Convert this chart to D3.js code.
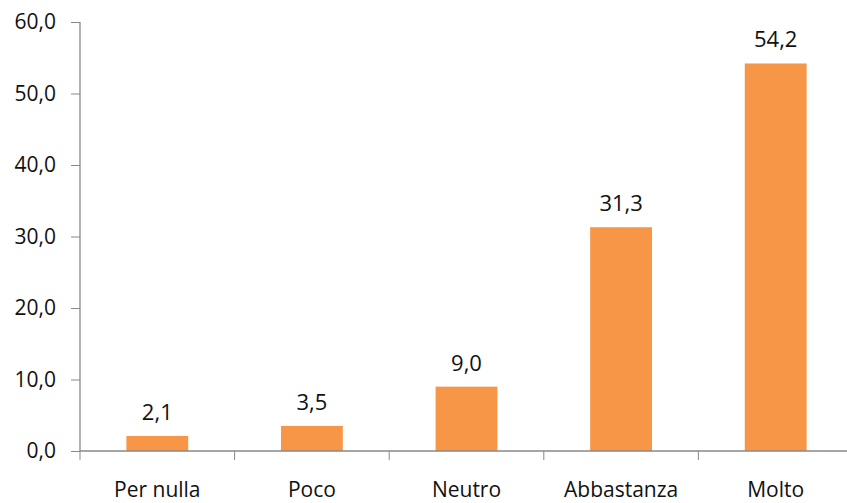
<!doctype html>
<html>
<head>
	<script src="https://d3js.org/d3.v7.min.js"></script>
	<style>
		body { margin: 0; background: #fff; }
		text { font-family: "Open Sans", "DejaVu Sans", sans-serif; fill: #111; }
	</style>
</head>
<body>
	<svg id="chart" width="847" height="503"></svg>
	<script>
		var categories = ["Per nulla", "Poco", "Neutro", "Abbastanza", "Molto"];
		var values = [2.1, 3.5, 9.0, 31.3, 54.2];
		var yTicks = [0, 10, 20, 30, 40, 50, 60];

		var fmt = function(v) { return v.toFixed(1).replace(".", ","); };

		var svg = d3.select("#chart");

		var xScale = d3.scaleBand()
			.domain(categories)
			.range([80, 853])
			.paddingInner(0.6)
			.paddingOuter(0.3);

		var yScale = d3.scaleLinear()
			.domain([0, 60])
			.range([451, 22]);

		// bars
		svg.selectAll("rect.bar")
			.data(values)
			.enter()
			.append("rect")
				.attr("class", "bar")
				.attr("x", (d, i) => xScale(categories[i]))
				.attr("y", d => yScale(d))
				.attr("width", xScale.bandwidth())
				.attr("height", d => yScale(0) - yScale(d))
				.attr("fill", "#f79646");

		// value labels
		svg.selectAll("text.val")
			.data(values)
			.enter()
			.append("text")
				.attr("class", "val")
				.attr("x", (d, i) => xScale(categories[i]) + xScale.bandwidth() / 2)
				.attr("y", d => yScale(d) - 16)
				.attr("text-anchor", "middle")
				.style("font-size", "22px")
				.text(fmt);

		// y axis
		var yAxis = d3.axisLeft(yScale)
			.tickValues(yTicks)
			.tickSize(9)
			.tickPadding(15)
			.tickFormat(fmt);

		var yG = svg.append("g")
			.attr("transform", "translate(80,0)")
			.call(yAxis);

		// x axis
		var xAxis = d3.axisBottom(xScale)
			.tickSize(0)
			.tickPadding(31);

		var xG = svg.append("g")
			.attr("transform", "translate(0,451)")
			.call(xAxis);

		// category boundary ticks
		var step = xScale.step();
		xG.selectAll("line.sep")
			.data(d3.range(categories.length + 1))
			.enter()
			.append("line")
				.attr("class", "sep")
				.attr("x1", i => 80 + i * step)
				.attr("x2", i => 80 + i * step)
				.attr("y1", 0)
				.attr("y2", 9)
				.attr("stroke", "#888");

		svg.selectAll(".domain").attr("stroke", "#888").attr("stroke-width", 1.3);
		yG.selectAll(".tick line").attr("stroke", "#888");
		svg.selectAll(".tick text").style("font-size", "21px").attr("fill", "#111");
		xG.selectAll(".tick text").style("font-size", "21px");
		xG.select(".domain").attr("d", "M80,0H853");
		yG.select(".domain").attr("d", "M0,22V451");
	</script>
</body>
</html>
